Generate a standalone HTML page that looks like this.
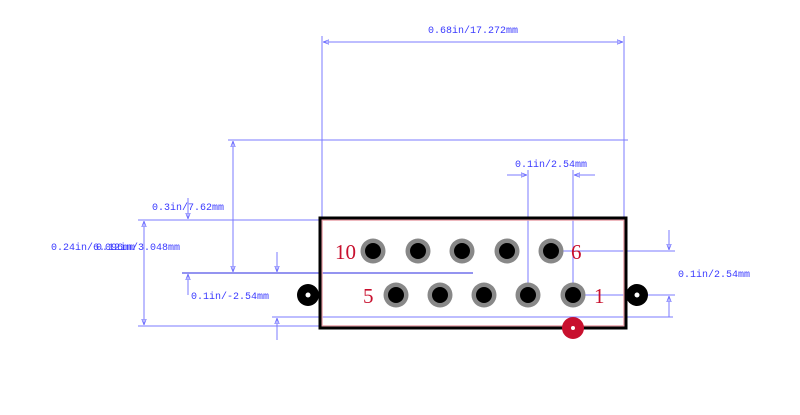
<!DOCTYPE html>
<html><head><style>html,body{margin:0;padding:0;background:#fff;width:800px;height:415px;overflow:hidden}</style></head>
<body>
<svg width="800" height="415" xmlns="http://www.w3.org/2000/svg">
<defs>
<marker id="a" viewBox="0 0 8 8" refX="8" refY="4" markerWidth="6" markerHeight="6" orient="auto-start-reverse"><path d="M0,1 L8,4 L0,7 Z" fill="none" stroke="#6a6aff" stroke-width="1"/></marker>
</defs>
<g stroke="#7b7bff" stroke-width="1" fill="none">
<line x1="322" y1="36" x2="322" y2="218"/>
<line x1="624" y1="36" x2="624" y2="218"/>
<line x1="323" y1="42" x2="623" y2="42" marker-start="url(#a)" marker-end="url(#a)"/>
<line x1="228" y1="140" x2="628" y2="140"/>
<line x1="233" y1="141" x2="233" y2="272" marker-start="url(#a)" marker-end="url(#a)"/>
<line x1="188" y1="198" x2="188" y2="219" marker-end="url(#a)"/>
<line x1="138" y1="220" x2="320" y2="220"/>
<line x1="138" y1="326" x2="320" y2="326"/>
<line x1="144" y1="221" x2="144" y2="325" marker-start="url(#a)" marker-end="url(#a)"/>
<line x1="277" y1="252" x2="277" y2="272" marker-end="url(#a)"/>
<line x1="277" y1="340" x2="277" y2="318" marker-end="url(#a)"/>
<line x1="272" y1="317" x2="673" y2="317"/>
<line x1="188" y1="295" x2="188" y2="274" marker-end="url(#a)"/>
<line x1="551" y1="251" x2="675" y2="251"/>
<line x1="573" y1="295" x2="675" y2="295"/>
<line x1="669" y1="230" x2="669" y2="250" marker-end="url(#a)"/>
<line x1="669" y1="317" x2="669" y2="296" marker-end="url(#a)"/>
<line x1="528" y1="170" x2="528" y2="295"/>
<line x1="573" y1="170" x2="573" y2="295"/>
<line x1="507" y1="175" x2="527" y2="175" marker-end="url(#a)"/>
<line x1="595" y1="175" x2="574" y2="175" marker-end="url(#a)"/>
</g>
<line x1="182" y1="273" x2="473" y2="273" stroke="#2a2ae0" stroke-width="1"/>
<rect x="322" y="220" width="302" height="106" fill="none" stroke="#e8a0a8" stroke-width="1.5"/>
<rect x="320" y="218" width="306" height="110" fill="none" stroke="#000" stroke-width="3"/>
<g>
<g fill="#888"><circle cx="373" cy="251" r="12.5"/><circle cx="418" cy="251" r="12.5"/><circle cx="462" cy="251" r="12.5"/><circle cx="507" cy="251" r="12.5"/><circle cx="551" cy="251" r="12.5"/><circle cx="396" cy="295" r="12.5"/><circle cx="440" cy="295" r="12.5"/><circle cx="484" cy="295" r="12.5"/><circle cx="528" cy="295" r="12.5"/><circle cx="573" cy="295" r="12.5"/></g>
<g fill="#000"><circle cx="373" cy="251" r="8"/><circle cx="418" cy="251" r="8"/><circle cx="462" cy="251" r="8"/><circle cx="507" cy="251" r="8"/><circle cx="551" cy="251" r="8"/><circle cx="396" cy="295" r="8"/><circle cx="440" cy="295" r="8"/><circle cx="484" cy="295" r="8"/><circle cx="528" cy="295" r="8"/><circle cx="573" cy="295" r="8"/></g>
</g>
<circle cx="308" cy="295" r="11" fill="#000"/><circle cx="308" cy="295" r="2.5" fill="#fff"/>
<circle cx="637" cy="295" r="11" fill="#000"/><circle cx="637" cy="295" r="2.5" fill="#fff"/>
<circle cx="573" cy="328" r="11" fill="#c8102e"/><circle cx="573" cy="328" r="2" fill="#fff"/>
<g font-family="Liberation Serif, serif" font-size="21" fill="#c8102e">
<text x="335" y="259">10</text><text x="571" y="259">6</text><text x="363" y="303">5</text><text x="594" y="303">1</text>
</g>
<g font-family="Liberation Mono, monospace" font-size="10" fill="#3a3aff">
<text x="428" y="33">0.68in/17.272mm</text>
<text x="515" y="167">0.1in/2.54mm</text>
<text x="152" y="210">0.3in/7.62mm</text>
<text x="51" y="250">0.24in/6.096mm</text>
<text x="96" y="250">0.12in/3.048mm</text>
<text x="191" y="299">0.1in/-2.54mm</text>
<text x="678" y="277">0.1in/2.54mm</text>
</g>
</svg>
</body></html>
